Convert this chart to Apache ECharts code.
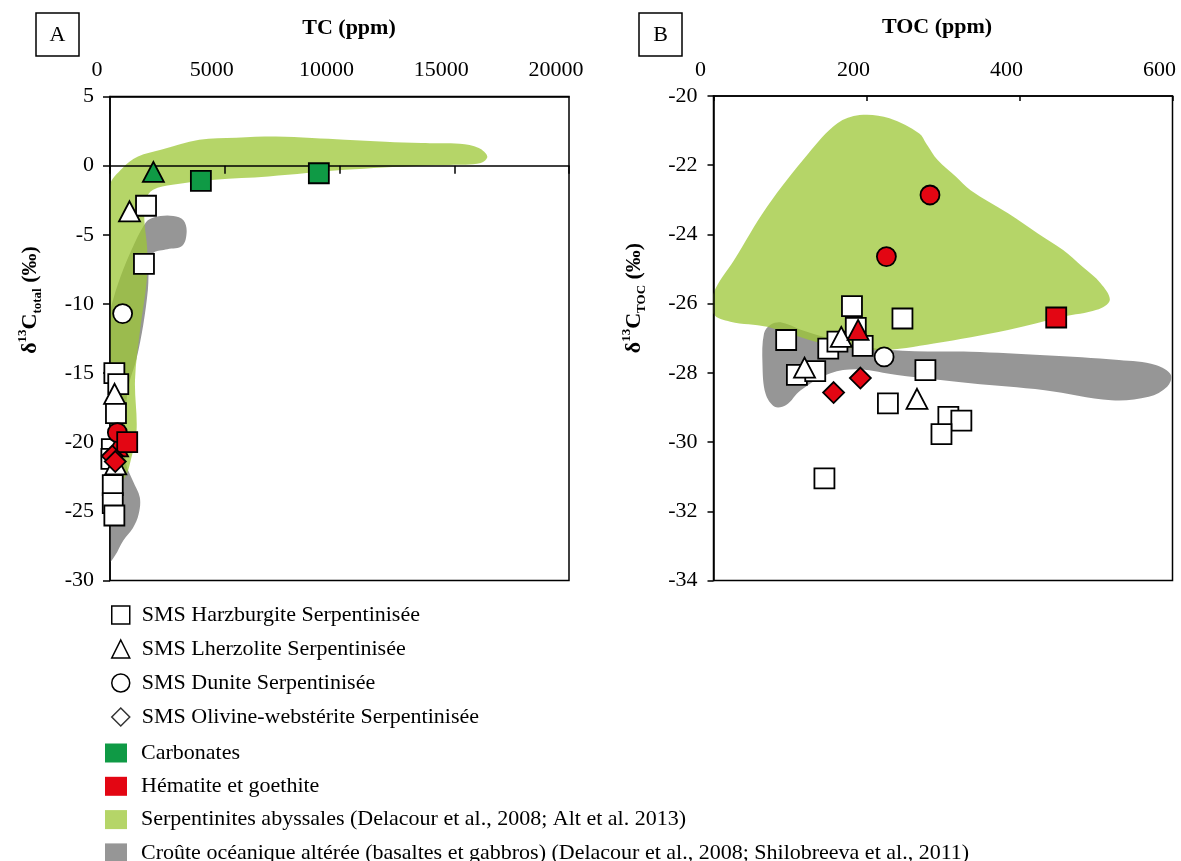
<!DOCTYPE html>
<html>
<head>
<meta charset="utf-8">
<script src="https://cdn.jsdelivr.net/npm/echarts@6/dist/echarts.min.js"></script>
<style>
  html, body { margin: 0; padding: 0; background: #fff; }
  #chart { width: 1181px; height: 861px; }
</style>
</head>
<body>
<div id="chart"></div>
<script>
// ---------- Panel A : TC (ppm) vs d13C total ----------
const tcTicks = [0, 5000, 10000, 15000, 20000];
const d13cTotalTicks = [-30, -25, -20, -15, -10, -5, 0, 5];

const aHarzburgite = [[1570, -2.9], [1480, -7.1], [190, -15.0], [360, -15.8], [260, -17.9],
  [80, -20.5], [60, -21.2], [120, -23.1], [120, -24.4], [190, -25.3]];
const aLherzolite = [[850, -3.3], [200, -16.5], [250, -21.6]];
const aDunite = [[550, -10.7]];
const aCarbSquare = [[3960, -1.1], [9100, -0.55]];
const aCarbTriangle = [[1890, -0.45]];
const aHemSquare = [[750, -20.0]];
const aHemTriangle = [[330, -20.3]];
const aHemCircle = [[320, -19.3]];
const aHemDiamond = [[100, -21.0], [230, -21.4]];

// field outlines (TC ppm, d13C)
const aSerpField = [[0, -22.7], [0, -1.5], [550, -0.17], [1220, 0.66], [2220, 1.15], [3890, 1.87],
  [5500, 2.02], [7230, 2.1], [8800, 2.0], [10240, 1.87], [12000, 1.72], [13570, 1.63], [15240, 1.58],
  [16070, 1.27], [16440, 0.66], [16160, 0.19], [14800, 0.05], [13570, 0.0], [10240, -0.3],
  [6900, -0.78], [4560, -1.02], [2720, -1.38], [1880, -1.74], [1550, -2.46], [1500, -4.0],
  [1620, -6.0], [1600, -8.3], [1310, -11.9], [1090, -15.5], [1160, -19.1], [950, -21.0], [580, -22.7]];
const aCrustField = [[0, -10.8], [150, -9.6], [580, -7.5], [1100, -5.5], [1450, -4.4], [1700, -3.9],
  [2200, -3.65], [2760, -3.65], [3200, -3.95], [3340, -4.8], [3150, -5.8], [2500, -6.05], [1900, -6.3],
  [1720, -7.0], [1650, -9.0], [1450, -11.5], [1150, -14.0], [800, -16.0], [660, -18.5], [700, -21.5],
  [1000, -22.8], [1300, -24.0], [1250, -25.2], [1000, -26.2], [580, -27.1], [220, -28.2], [0, -28.6]];

// ---------- Panel B : TOC (ppm) vs d13C TOC ----------
const tocTicks = [0, 200, 400, 600];
const d13cTocTicks = [-34, -32, -30, -28, -26, -24, -22, -20];

const bHarzburgite = [[181, -26.07], [247, -26.43], [95, -27.05], [277, -27.92], [109, -28.06],
  [133, -27.95], [150, -27.3], [162, -27.1], [186, -26.7], [195, -27.22], [228, -28.88],
  [307, -29.27], [324, -29.38], [298, -29.77], [145, -31.05]];
const bLherzolite = [[119, -27.85], [167, -26.96], [266, -28.75]];
const bDunite = [[223, -27.54]];
const bHemCircle = [[283, -22.86], [226, -24.64]];
const bHemSquare = [[448, -26.4]];
const bHemTriangle = [[189, -26.76]];
const bHemDiamond = [[192, -28.15], [157, -28.57]];

const bSerpField = [[0, -26.3], [0, -25.7], [27, -24.74], [70, -23.2], [124, -21.66], [162, -20.79],
  [191, -20.55], [230, -20.64], [269, -21.08], [278, -21.37], [293, -21.85], [317, -22.33],
  [336, -22.72], [385, -23.39], [424, -23.97], [457, -24.45], [482, -24.93], [506, -25.41],
  [518, -25.9], [501, -26.18], [457, -26.38], [385, -26.76], [288, -27.15], [216, -27.34],
  [143, -27.15], [70, -26.67], [22, -26.52]];
const bCrustField = [[64, -27.73], [66, -26.86], [75, -26.6], [90, -26.55], [120, -26.8], [160, -27.05],
  [215, -27.3], [280, -27.38], [336, -27.39], [433, -27.49], [530, -27.63], [578, -27.77],
  [598, -28.06], [593, -28.4], [569, -28.69], [520, -28.79], [433, -28.5], [336, -28.3],
  [240, -28.06], [191, -27.9], [153, -28.01], [114, -28.5], [95, -28.93], [80, -28.98], [68, -28.6]];

// ---------- legend labels ----------
const LBL_HARZ = 'SMS Harzburgite Serpentinisée';
const LBL_LHERZ = 'SMS Lherzolite Serpentinisée';
const LBL_DUN = 'SMS Dunite Serpentinisée';
const LBL_OLW = 'SMS Olivine-webstérite Serpentinisée';
const LBL_CARB = 'Carbonates';
const LBL_HEM = 'Hématite et goethite';
const LBL_SERP = 'Serpentinites abyssales (Delacour et al., 2008; Alt et al. 2013)';
const LBL_CRUST = 'Croûte océanique altérée (basaltes et gabbros) (Delacour et al., 2008; Shilobreeva et al., 2011)';

const SERIF = '"Liberation Serif", "Times New Roman", serif';
const WHITE = '#ffffff', GREEN = '#0f9a45', RED = '#e30613';
const SERP_FILL = '#9cc736', SERP_SHOWN = '#b5d568', CRUST_FILL = '#969696';

const chart = echarts.init(document.getElementById('chart'), null, { renderer: 'canvas' });

function markers(name, data, panel, symbol, size, fill) {
  return {
    type: 'scatter', name, data, symbol, symbolSize: size,
    xAxisIndex: panel === 0 ? 0 : 2, yAxisIndex: panel,
    z: 5, silent: true,
    itemStyle: { color: fill, borderColor: '#000', borderWidth: 1.8, opacity: 1 },
    emphasis: { disabled: true }
  };
}

function field(name, pts, panel, fill, opacity, z) {
  return {
    type: 'custom', name, coordinateSystem: 'cartesian2d',
    xAxisIndex: panel === 0 ? 0 : 2, yAxisIndex: panel,
    data: [pts[0]], z, silent: true, clip: true,
    renderItem: function (params, api) {
      return {
        type: 'polygon',
        shape: { points: pts.map(p => api.coord(p)), smooth: 0.35 },
        style: { fill, opacity }
      };
    }
  };
}

const axisText = { fontFamily: SERIF, fontSize: 22, color: '#000', formatter: v => String(v) };
const blackLine = { color: '#000', width: 1.5 };

function topAxis(grid, min, max, step, tickInside, tickLen) {
  return {
    gridIndex: grid, type: 'value', position: 'top', min, max, interval: step,
    axisLine: { show: true, onZero: false, lineStyle: blackLine },
    axisTick: { show: tickInside, inside: true, length: tickLen, lineStyle: blackLine },
    axisLabel: Object.assign({ margin: 15, padding: [0, 26, 0, 0] }, axisText),
    splitLine: { show: false }, z: 3
  };
}

function leftAxis(grid, min, max, step, tickLen) {
  return {
    gridIndex: grid, type: 'value', min, max, interval: step,
    axisLine: { show: true, onZero: false, lineStyle: blackLine },
    axisTick: { show: true, inside: false, length: tickLen, lineStyle: blackLine },
    axisLabel: Object.assign({ margin: 16 }, axisText),
    splitLine: { show: false }, z: 3
  };
}

const titleRich = {
  b: { fontFamily: SERIF, fontSize: 22, fontWeight: 'bold', color: '#000', lineHeight: 28 },
  sup: { fontFamily: SERIF, fontSize: 13, fontWeight: 'bold', color: '#000', verticalAlign: 'top', lineHeight: 13 },
  sub: { fontFamily: SERIF, fontSize: 13, fontWeight: 'bold', color: '#000', verticalAlign: 'bottom', lineHeight: 13 }
};

function panelBox(x, letter) {
  return [
    { type: 'rect', shape: { x, y: 13, width: 43, height: 43 }, style: { fill: '#fff', stroke: '#000', lineWidth: 1.5 } },
    { type: 'text', x: x + 21.5, y: 35, style: { text: letter, font: '22px ' + SERIF, fill: '#000', align: 'center', verticalAlign: 'middle' } }
  ];
}

const hollow = { color: WHITE, borderColor: '#000', borderWidth: 1.5 };

const option = {
  backgroundColor: '#fff',
  animation: false,
  grid: [
    { left: 110, top: 96.5, width: 459, height: 484, show: true, borderColor: '#000', borderWidth: 1.5, backgroundColor: 'transparent' },
    { left: 713.5, top: 96, width: 459, height: 484.5, show: true, borderColor: '#000', borderWidth: 1.5, backgroundColor: 'transparent' }
  ],
  xAxis: [
    topAxis(0, tcTicks[0], tcTicks[tcTicks.length - 1], tcTicks[1] - tcTicks[0], false, 0),
    {
      // zero line of panel A with its ticks
      gridIndex: 0, type: 'value', position: 'top', min: tcTicks[0], max: tcTicks[tcTicks.length - 1],
      interval: tcTicks[1] - tcTicks[0],
      axisLine: { show: true, onZero: true, onZeroAxisIndex: 0, lineStyle: blackLine },
      axisTick: { show: true, inside: true, length: 8, lineStyle: blackLine },
      axisLabel: { show: false }, splitLine: { show: false }, z: 4
    },
    topAxis(1, tocTicks[0], tocTicks[tocTicks.length - 1], tocTicks[1] - tocTicks[0], true, 5)
  ],
  yAxis: [
    leftAxis(0, d13cTotalTicks[0], d13cTotalTicks[d13cTotalTicks.length - 1], d13cTotalTicks[1] - d13cTotalTicks[0], 7),
    leftAxis(1, d13cTocTicks[0], d13cTocTicks[d13cTocTicks.length - 1], d13cTocTicks[1] - d13cTocTicks[0], 6)
  ],
  legend: [
    {
      orient: 'vertical', left: 106, top: 599, height: 150, itemWidth: 18, itemHeight: 18, itemGap: 12,
      selectedMode: false,
      textStyle: { fontFamily: SERIF, fontSize: 22, color: '#000', lineHeight: 22, padding: [0, 0, 0, 7] },
      data: [
        { name: LBL_HARZ, icon: 'rect', itemStyle: hollow },
        { name: LBL_LHERZ, icon: 'triangle', itemStyle: hollow },
        { name: LBL_DUN, icon: 'circle', itemStyle: hollow },
        { name: LBL_OLW, icon: 'diamond', itemStyle: hollow }
      ]
    },
    {
      orient: 'vertical', left: 100, top: 737, height: 160, itemWidth: 22, itemHeight: 19, itemGap: 11.3,
      selectedMode: false,
      textStyle: { fontFamily: SERIF, fontSize: 22, color: '#000', lineHeight: 22, padding: [0, 0, 0, 9] },
      data: [
        { name: LBL_CARB, icon: 'rect', itemStyle: { color: GREEN, borderWidth: 0 } },
        { name: LBL_HEM, icon: 'rect', itemStyle: { color: RED, borderWidth: 0 } },
        { name: LBL_SERP, icon: 'rect', itemStyle: { color: SERP_SHOWN, borderWidth: 0, opacity: 1 } },
        { name: LBL_CRUST, icon: 'rect', itemStyle: { color: CRUST_FILL, borderWidth: 0 } }
      ]
    }
  ],
  graphic: [
    ...panelBox(36, 'A'),
    ...panelBox(639, 'B'),
    { type: 'text', x: 349, y: 28, style: { text: 'TC (ppm)', font: 'bold 22px ' + SERIF, fill: '#000', align: 'center', verticalAlign: 'middle' } },
    { type: 'text', x: 937, y: 27, style: { text: 'TOC (ppm)', font: 'bold 22px ' + SERIF, fill: '#000', align: 'center', verticalAlign: 'middle' } },
    { type: 'text', x: 30, y: 300, rotation: Math.PI / 2,
      style: { text: '{b|δ}{sup|13}{b|C}{sub|total}{b| (‰)}', rich: titleRich, align: 'center', verticalAlign: 'middle' } },
    { type: 'text', x: 634, y: 298, rotation: Math.PI / 2,
      style: { text: '{b|δ}{sup|13}{b|C}{sub|TOC}{b| (‰)}', rich: titleRich, align: 'center', verticalAlign: 'middle' } }
  ],
  series: [
    field(LBL_CRUST, aCrustField, 0, CRUST_FILL, 1, 1),
    field(LBL_SERP, aSerpField, 0, SERP_FILL, 0.75, 1.5),
    field(LBL_CRUST, bCrustField, 1, CRUST_FILL, 1, 1),
    field(LBL_SERP, bSerpField, 1, SERP_FILL, 0.75, 1.5),

    markers(LBL_HARZ, aHarzburgite, 0, 'rect', 20, WHITE),
    markers(LBL_LHERZ, aLherzolite, 0, 'triangle', [21, 20], WHITE),
    markers(LBL_DUN, aDunite, 0, 'circle', 19, WHITE),
    markers(LBL_CARB, aCarbTriangle, 0, 'triangle', [21, 20], GREEN),
    markers(LBL_CARB, aCarbSquare, 0, 'rect', 20, GREEN),
    markers(LBL_HEM, aHemTriangle, 0, 'triangle', [21, 20], RED),
    markers(LBL_HEM, aHemCircle, 0, 'circle', 19, RED),
    markers(LBL_HEM, aHemSquare, 0, 'rect', 20, RED),
    markers(LBL_HEM, aHemDiamond, 0, 'diamond', [21, 21], RED),

    markers(LBL_HARZ, bHarzburgite, 1, 'rect', 20, WHITE),
    markers(LBL_LHERZ, bLherzolite, 1, 'triangle', [21, 20], WHITE),
    markers(LBL_DUN, bDunite, 1, 'circle', 19, WHITE),
    markers(LBL_HEM, bHemCircle, 1, 'circle', 19, RED),
    markers(LBL_HEM, bHemSquare, 1, 'rect', 20, RED),
    markers(LBL_HEM, bHemTriangle, 1, 'triangle', [21, 20], RED),
    markers(LBL_HEM, bHemDiamond, 1, 'diamond', [21, 21], RED),

    { type: 'scatter', name: LBL_OLW, data: [], xAxisIndex: 2, yAxisIndex: 1, symbol: 'diamond' }
  ]
};

chart.setOption(option);
</script>
</body>
</html>
